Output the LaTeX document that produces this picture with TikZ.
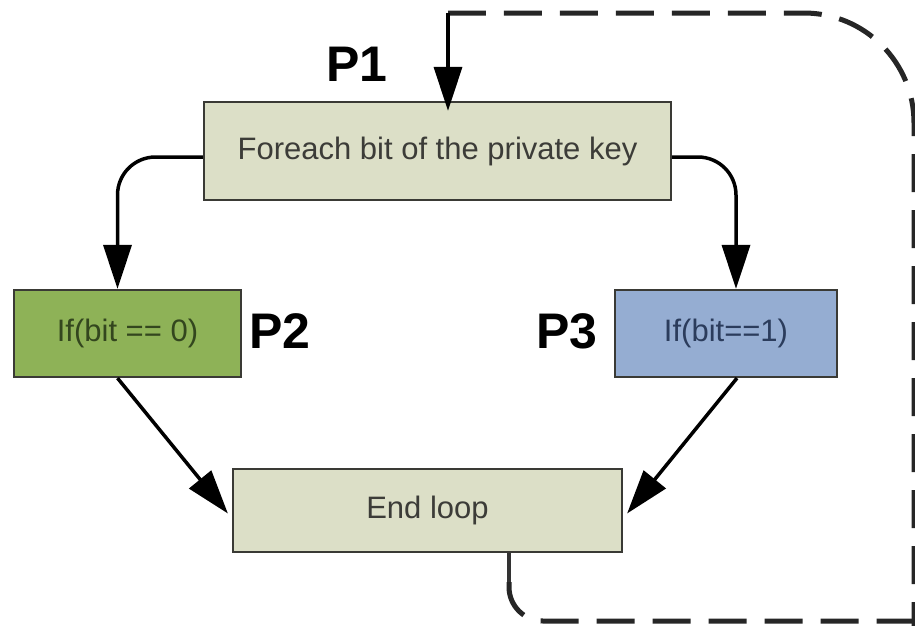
\documentclass[tikz,border=0pt]{standalone}
\usepackage{fontspec}
\setmainfont{Liberation Sans}
\usetikzlibrary{arrows.meta}
\definecolor{boxgrey}{HTML}{DCDFC7}
\definecolor{boxgreen}{HTML}{8EB257}
\definecolor{boxblue}{HTML}{95ADD2}
\definecolor{edgegrey}{HTML}{3A3A35}
\definecolor{txtgrey}{HTML}{3C3C38}
\definecolor{txtgreen}{HTML}{33461E}
\definecolor{txtblue}{HTML}{2B3C5C}
\tikzset{
  stepbox/.style={draw=edgegrey, line width=2.2pt, inner sep=0pt, font=\fontsize{31}{36}\selectfont},
  plabel/.style={font=\bfseries\fontsize{50}{56}\selectfont, inner sep=0pt},
  arr/.style={draw=black, line width=3.5pt, -{Triangle[length=44pt,width=28pt]}},
  loopdash/.style={draw=black!85, line width=5pt, dash pattern=on 38pt off 18pt},
  loopsolid/.style={draw=black!80, line width=3.5pt}
}
\begin{document}
\begin{tikzpicture}[x=1pt,y=-1pt]
\useasboundingbox (0,0) rectangle (915,625);
\clip (0,0) rectangle (915,625);
\fill[white] (0,0) rectangle (915,625);

\node[stepbox, fill=boxgrey, text=txtgrey, minimum width=467pt, minimum height=98pt] (p1) at (437.5,151) {Foreach bit of the private key};
\node[stepbox, fill=boxgreen, text=txtgreen, minimum width=227pt, minimum height=87pt] (p2) at (127.5,333.5) {If(bit == 0)};
\node[stepbox, fill=boxblue, text=txtblue, minimum width=222pt, minimum height=87pt] (p3) at (726,333.5) {If(bit==1)};
\node[stepbox, fill=boxgrey, text=txtgrey, minimum width=389pt, minimum height=83pt] (endloop) at (427.5,510.5) {End loop};

\node[plabel] (l1) at (357,64) {P1};
\node[plabel] (l2) at (280,331) {P2};
\node[plabel] (l3) at (567,331) {P3};

\coordinate (dropA) at (509,590);
\coordinate (topL) at (448,13);
\coordinate (offR) at (940,621);
\coordinate (offB) at (914,640);

\draw[arr, rounded corners=38pt] ([yshift=-6pt]p1.west) -| ([xshift=-10pt]p2.north);
\draw[arr, rounded corners=38pt] ([yshift=-6pt]p1.east) -| ([xshift=10pt]p3.north);
\draw[arr] ([xshift=-10pt]p2.south) -- ([xshift=-4pt,yshift=-3pt]endloop.west);
\draw[arr] ([xshift=11pt]p3.south) -- ([xshift=4pt,yshift=-3pt]endloop.east);

\draw[loopsolid] (endloop.south -| dropA) -- (dropA);
\draw[loopdash, rounded corners=34pt] ([yshift=8pt]dropA) |- (offR);
\draw[loopdash, rounded corners=110pt] (offB) |- (topL);
\draw[arr] (topL) -- ([yshift=-10pt]p1.north -| topL);
\end{tikzpicture}
\end{document}
